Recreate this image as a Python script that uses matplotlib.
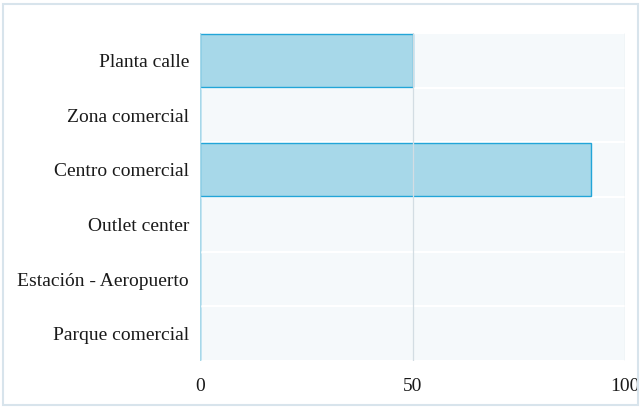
import matplotlib.pyplot as plt
from matplotlib.patches import Rectangle

categories = ['Planta calle', 'Zona comercial', 'Centro comercial',
              'Outlet center', 'Estación - Aeropuerto', 'Parque comercial']
values = [50, 0, 92, 0, 0, 0]
xticks = [0, 50, 100]

plt.rcParams['font.family'] = ['Liberation Serif', 'DejaVu Serif']

fig = plt.figure(figsize=(6.41, 4.08), dpi=100)
ax = fig.add_axes([200 / 641, 1 - 361 / 408, 425 / 641, 328 / 408])

y = list(range(len(categories)))
h = 0.96

# light background band for each row
for yi in y:
    ax.axhspan(yi - h / 2, yi + h / 2, color='#f5f9fb', zorder=0, lw=0)

ax.barh(y, values, height=h, color='#a7d8e9', edgecolor='#22a5d8',
        linewidth=1.0, zorder=2)

for xv in xticks[1:]:
    ax.axvline(xv, color='#d3dde3', lw=0.9, zorder=3)
ax.axvline(0, color='#a7d8e9', lw=1.0, zorder=3)

ax.set_xlim(0, 100)
ax.set_ylim(len(categories) - 0.5, -0.5)
ax.set_xticks(xticks)
ax.set_yticks(y)
ax.set_yticklabels(categories)
ax.tick_params(axis='both', length=0, labelsize=14, colors='#1a1a1a')
ax.tick_params(axis='y', pad=8)
ax.tick_params(axis='x', pad=12)
for s in ax.spines.values():
    s.set_visible(False)

# outer frame
fig.patches.append(Rectangle((3 / 641, 3 / 408), 635 / 641, 401 / 408,
                             transform=fig.transFigure, fill=False,
                             edgecolor='#d8e4ec', lw=1.5))

fig.savefig('out.png', dpi=100)
